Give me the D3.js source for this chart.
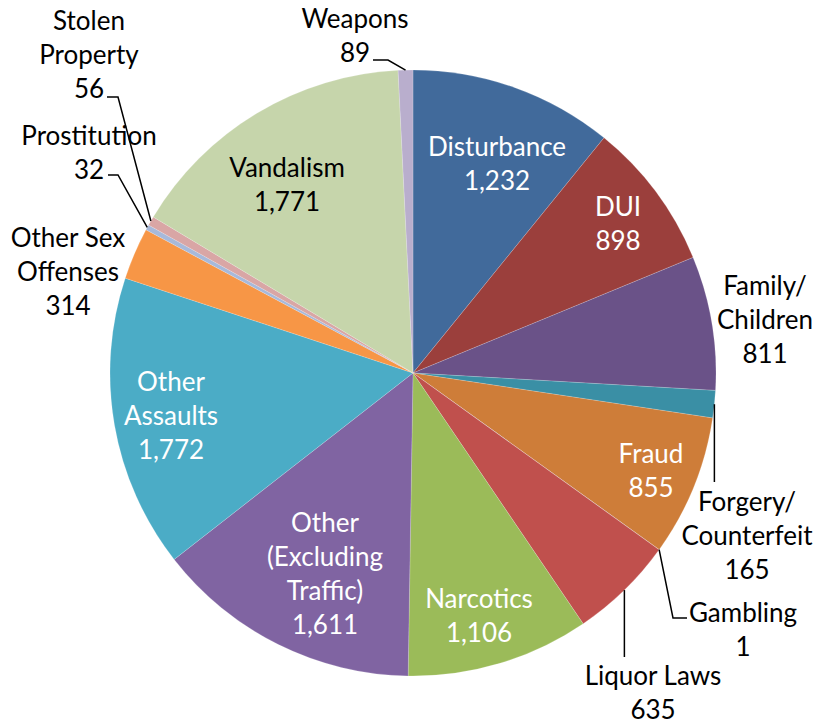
<!DOCTYPE html>
<html>
<head>
<meta charset="UTF-8">
<title>Arrests by Offense</title>
<style>
  body { margin: 0; background: #fff; }
  svg text { font-family: Lato, "Open Sans", sans-serif; font-size: 26px; }
</style>
</head>
<body>
<svg id="chart"></svg>
<script src="https://d3js.org/d3.v7.min.js"></script>
<script>
// data, clockwise from 12 o'clock
var categories = ["Disturbance", "DUI", "Family/Children", "Forgery/Counterfeit", "Fraud", "Gambling",
  "Liquor Laws", "Narcotics", "Other (Excluding Traffic)", "Other Assaults", "Other Sex Offenses",
  "Prostitution", "Stolen Property", "Vandalism", "Weapons"];
var values = [1232, 898, 811, 165, 855, 1, 635, 1106, 1611, 1772, 314, 32, 56, 1771, 89];
var labelLines = [["Disturbance"], ["DUI"], ["Family/", "Children"], ["Forgery/", "Counterfeit"], ["Fraud"],
  ["Gambling"], ["Liquor Laws"], ["Narcotics"], ["Other", "(Excluding", "Traffic)"], ["Other", "Assaults"],
  ["Other Sex", "Offenses"], ["Prostitution"], ["Stolen", "Property"], ["Vandalism"], ["Weapons"]];
var colors = ["#416A9B", "#9B3F3C", "#6A5288", "#3A8FA5", "#CE7D39", "#8EA9CF",
  "#C0504D", "#9BBB59", "#8064A2", "#4BACC6", "#F79646",
  "#A7B9DA", "#D9A6A5", "#C6D5AB", "#B9AECD"];

// label placement (offset of label block centre from pie centre) and leader lines
var labelLayout = {
  "Disturbance": { dx: 84, dy: -209, fill: "#fff" },
  "DUI": { dx: 205, dy: -149, fill: "#fff" },
  "Family/Children": { dx: 352, dy: -53 },
  "Forgery/Counterfeit": { dx: 334, dy: 163, leader: [[0, 109]] },
  "Fraud": { dx: 238, dy: 98, fill: "#fff" },
  "Gambling": { dx: 330, dy: 257, leader: [[260, 245], [274, 245]] },
  "Liquor Laws": { dx: 240, dy: 320, leader: [[0, 284]] },
  "Narcotics": { dx: 66, dy: 243, fill: "#fff" },
  "Other (Excluding Traffic)": { dx: -88, dy: 201, fill: "#fff" },
  "Other Assaults": { dx: -242, dy: 43, fill: "#fff" },
  "Other Sex Offenses": { dx: -345, dy: -101 },
  "Prostitution": { dx: -324, dy: -220, leader: [[-295, -198], [-305, -198]] },
  "Stolen Property": { dx: -324, dy: -318, leader: [[-295, -276], [-306, -276]] },
  "Vandalism": { dx: -126, dy: -188 },
  "Weapons": { dx: -58, dy: -337, leader: [[-25, -313], [-40, -313]] }
};

var width = 817, height = 725;
var cx = 413, cy = 373, radius = 303;
var lineH = 34;

var svg = d3.select("#chart").attr("width", width).attr("height", height);
var g = svg.append("g").attr("transform", "translate(" + cx + "," + cy + ")");

var data = categories.map(function (c, i) {
  return { name: c, value: values[i], lines: labelLines[i], color: colors[i] };
});

var pie = d3.pie().sort(null).value(function (d) { return d.value; });
var arcs = pie(data);
var arc = d3.arc().innerRadius(0).outerRadius(radius);
var edge = d3.arc().innerRadius(radius).outerRadius(radius);
var fmt = d3.format(",");

g.selectAll("path.slice").data(arcs).enter().append("path")
  .attr("class", "slice")
  .attr("d", arc)
  .attr("fill", function (d) { return d.data.color; })
  .attr("stroke", "rgba(255,255,255,0.35)")
  .attr("stroke-width", 0.5);

// leader lines for small slices
arcs.forEach(function (d) {
  var lay = labelLayout[d.data.name];
  if (!lay.leader) return;
  var p0 = edge.centroid(d);
  var pts = [p0].concat(lay.leader.map(function (p) {
    // a 0 x means "keep the x of the slice edge" (vertical leader)
    return [p[0] === 0 ? p0[0] : p[0], p[1]];
  }));
  g.append("path")
    .attr("d", d3.line()(pts))
    .attr("fill", "none")
    .attr("stroke", "#000")
    .attr("stroke-width", 1.5);
});

// labels
var labels = g.selectAll("text.lbl").data(arcs).enter().append("text")
  .attr("class", "lbl")
  .attr("text-anchor", "middle")
  .attr("fill", function (d) { return labelLayout[d.data.name].fill || "#000"; });

labels.each(function (d) {
  var lay = labelLayout[d.data.name];
  var lines = d.data.lines.concat([fmt(d.data.value)]);
  var top = lay.dy - (lines.length - 1) * lineH / 2;
  var t = d3.select(this);
  lines.forEach(function (s, i) {
    t.append("tspan")
      .attr("x", lay.dx)
      .attr("y", top + i * lineH + 9)
      .text(s);
  });
});
</script>
</body>
</html>
